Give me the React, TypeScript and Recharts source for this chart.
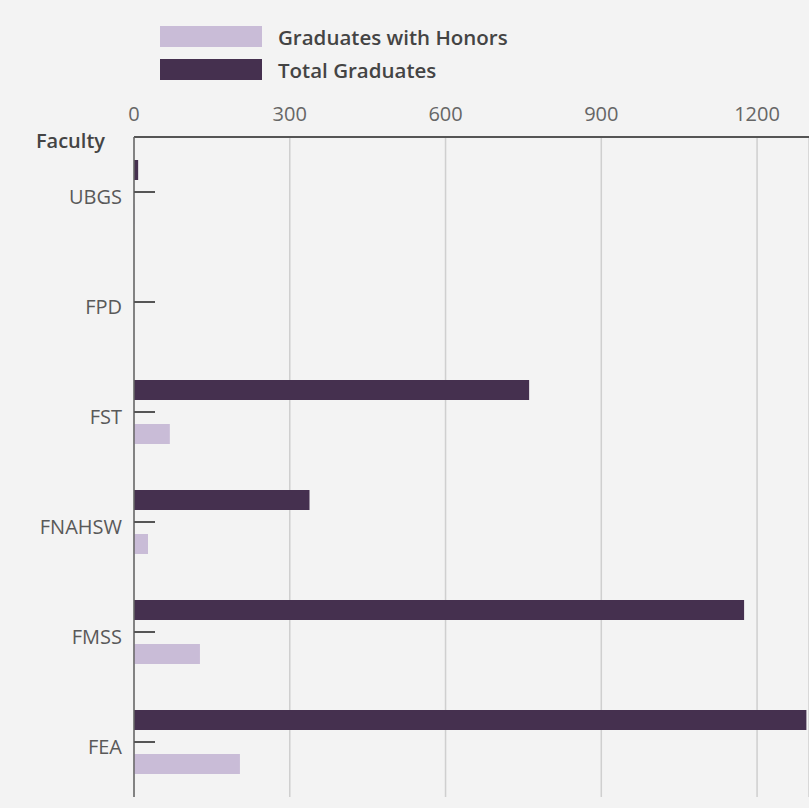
import { Bar, BarChart, CartesianGrid, Legend, XAxis, YAxis } from "recharts";

const faculties = ["UBGS", "FPD", "FST", "FNAHSW", "FMSS", "FEA"];
const totalGraduates = [8, 0, 761, 338, 1175, 1295];
const honorsGraduates = [1, 0, 69, 27, 127, 204];
const valueTicks = [0, 300, 600, 900, 1200];

const DARK = "#45304f";
const LIGHT = "#c9bcd7";
const FONT = "'Open Sans', 'Noto Sans', sans-serif";

const data = faculties.map((faculty, i) => ({
  faculty,
  total: totalGraduates[i],
  honors: honorsGraduates[i]
}));

function FacultyTick(props: any) {
  const { x, y, payload } = props;
  return (
    <g>
      <line x1={x} x2={x + 21} y1={y} y2={y} stroke="#555" strokeWidth={2} />
      <text
        x={x - 12}
        y={y + 12}
        textAnchor="end"
        fill="#595959"
        fontSize={20}
        fontFamily={FONT}
      >
        {payload.value}
      </text>
    </g>
  );
}

function FacultyLabel(props: any) {
  const vb = props.viewBox;
  return (
    <text
      x={vb.x + vb.width - 29}
      y={vb.y + 11}
      textAnchor="end"
      fill="#444"
      fontSize={20}
      fontWeight={600}
      fontFamily={FONT}
    >
      Faculty
    </text>
  );
}

// honors first, then total, as in the printed key
function LegendBox(props: any) {
  const items = [...(props.payload || [])].sort((a: any, b: any) =>
    a.dataKey === "honors" ? -1 : b.dataKey === "honors" ? 1 : 0
  );
  return (
    <div style={{ fontFamily: FONT }}>
      {items.map((item: any) => (
        <div
          key={item.value}
          style={{ display: "flex", alignItems: "center", height: 33 }}
        >
          <span
            style={{
              display: "inline-block",
              width: 102,
              height: 21,
              background: item.color,
              marginRight: 16
            }}
          />
          <span style={{ fontSize: 20.5, fontWeight: 600, color: "#444" }}>
            {item.value}
          </span>
        </div>
      ))}
    </div>
  );
}

export default function App() {
  return (
    <div
      style={{
        position: "absolute",
        left: 0,
        top: 0,
        width: 809,
        height: 808,
        background: "#f3f3f3"
      }}
    >
      <BarChart
        width={809}
        height={808}
        data={data}
        layout="vertical"
        margin={{ top: 0, right: 0, bottom: 11, left: 0 }}
        barSize={20}
        barGap={24}
      >
        <CartesianGrid
          horizontal={false}
          stroke="#cfcfcf"
          strokeWidth={1.5}
        />
        <XAxis
          type="number"
          orientation="top"
          domain={[0, 1300]}
          ticks={valueTicks}
          height={137}
          tickLine={false}
          tickSize={0}
          tickMargin={16}
          axisLine={{ stroke: "#555", strokeWidth: 2 }}
          tick={{ fill: "#666", fontSize: 20, fontFamily: FONT }}
        />
        <YAxis
          type="category"
          dataKey="faculty"
          width={134}
          tickLine={false}
          tickSize={0}
          tickMargin={0}
          axisLine={{ stroke: "#666", strokeWidth: 1.5 }}
          tick={<FacultyTick />}
          label={<FacultyLabel />}
        />
        <Legend
          layout="vertical"
          verticalAlign="middle"
          align="center"
          wrapperStyle={{ left: 160, top: 20, width: "auto" }}
          content={<LegendBox />}
        />
        <Bar
          dataKey="total"
          name="Total Graduates"
          fill={DARK}
          isAnimationActive={false}
        />
        <Bar
          dataKey="honors"
          name="Graduates with Honors"
          fill={LIGHT}
          isAnimationActive={false}
        />
      </BarChart>
    </div>
  );
}
